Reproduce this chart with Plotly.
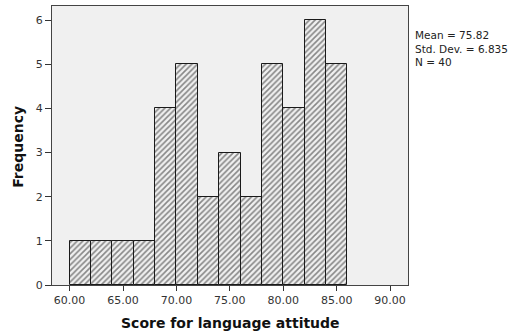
import plotly.graph_objects as go

# Data
bin_starts = [60, 62, 64, 66, 68, 70, 72, 74, 76, 78, 80, 82, 84]
bin_width = 2
counts = [1, 1, 1, 1, 4, 5, 2, 3, 2, 5, 4, 6, 5]
x_ticks = [60, 65, 70, 75, 80, 85, 90]
x_tick_labels = ["60.00", "65.00", "70.00", "75.00", "80.00", "85.00", "90.00"]
y_ticks = [0, 1, 2, 3, 4, 5, 6]
stats_text = ["Mean = 75.82", "Std. Dev. = 6.835", "N = 40"]
x_title = "Score for language attitude"
y_title = "Frequency"

centers = [s + bin_width / 2 for s in bin_starts]

fig = go.Figure()
fig.add_trace(go.Bar(
    x=centers, y=counts, width=[bin_width] * len(counts),
    marker=dict(
        color="#f0f0f0",
        line=dict(color="#1a1a1a", width=1),
        pattern=dict(shape="/", fgcolor="#1e1e1e", bgcolor="#f0f0f0", size=4, solidity=0.4),
    ),
    hoverinfo="skip",
))

tick_font = "DejaVu Sans, Verdana, sans-serif"
title_font = "DejaVu Sans, Verdana, sans-serif"

annotations = [
    dict(
        xref="paper", yref="paper", x=1.0 + (413 - 408) / 356, y=1 - (27 - 6) / 279.3,
        xanchor="left", yanchor="top", align="left",
        text="<br>".join(stats_text), showarrow=False,
        font=dict(size=10.5, color="#222222", family=tick_font),
    ),
    dict(
        xref="paper", yref="paper", x=0.5, y=-(323 - 285.3) / 279.3,
        xanchor="center", yanchor="middle", text="<b>" + x_title + "</b>", showarrow=False,
        font=dict(size=14, color="#111111", family=title_font),
    ),
    dict(
        xref="paper", yref="paper", x=-(52 - 18) / 356, y=1 - (147 - 6) / 279.3,
        xanchor="center", yanchor="middle", textangle=-90, text="<b>" + y_title + "</b>", showarrow=False,
        font=dict(size=14, color="#111111", family=title_font),
    ),
]

fig.update_layout(
    width=517, height=334,
    margin=dict(l=52, r=109, t=6, b=49, autoexpand=False),
    paper_bgcolor="white",
    plot_bgcolor="#f0f0f0",
    showlegend=False,
    bargap=0,
    font=dict(family=tick_font, color="#222222"),
    xaxis=dict(
        range=[58.35, 91.68],
        tickvals=x_ticks, ticktext=x_tick_labels,
        ticks="outside", ticklen=5, tickcolor="#333333",
        tickfont=dict(size=11, color="#333333"),
        showgrid=False, zeroline=False, automargin=False,
        showline=True, linecolor="#444444", linewidth=1, mirror=True,
    ),
    yaxis=dict(
        range=[0, 6.32],
        tickvals=y_ticks,
        ticks="outside", ticklen=6, tickcolor="#333333",
        tickfont=dict(size=11, color="#333333"),
        showgrid=False, zeroline=False, automargin=False,
        showline=True, linecolor="#444444", linewidth=1, mirror=True,
    ),
    annotations=annotations,
)

fig.write_html("out.html", config={"displayModeBar": False},
               post_script="document.body.style.margin='0';document.body.style.overflow='hidden';")
